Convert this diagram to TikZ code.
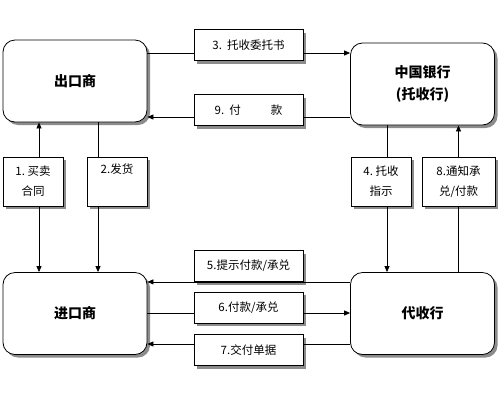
\documentclass[tikz,border=0pt]{standalone}
\usepackage{fontspec}
\setmainfont{Noto Sans CJK SC}
\usetikzlibrary{arrows.meta,shadows}

\begin{document}
\begin{tikzpicture}[
  x=1pt, y=-1pt,
  shade/.style={drop shadow={shadow xshift=3pt, shadow yshift=-3pt,
                fill=gray!90, opacity=1}},
  party/.style={draw, line width=0.8pt, rounded corners=12pt, fill=white,
                shade, minimum width=144pt, minimum height=82pt,
                inner sep=0pt, align=center,
                font=\fontsize{14pt}{22pt}\selectfont\bfseries},
  tag/.style={draw, line width=0.8pt, fill=white, shade,
              minimum width=109pt, minimum height=31pt, inner sep=0pt,
              align=center, font=\fontsize{11.5pt}{20pt}\selectfont},
  vtag/.style={tag, minimum width=60pt, minimum height=49pt},
  link/.style={line width=0.8pt},
  arr/.style={link, -{Triangle[length=6pt,width=5pt]}}
]
\useasboundingbox (0,0) rectangle (500,400);

% the four parties
\node[party] (exporter)   at (75,81)      {出口商};
\node[party] (bank)       at (422.5,84)   {中国银行\\(托收行)};
\node[party] (importer)   at (75,313.5)   {进口商};
\node[party] (collecting) at (422.5,313.5) {代收行};

% step labels
\node[tag] (l3) at (248.5,45)  {3.\ \ 托收委托书};
\node[tag] (l9) at (248.5,110) {9.\ \ 付\hspace{30pt}款};
\node[tag] (l5) at (248.5,266) {5.提示付款/承兑};
\node[tag] (l6) at (248.5,307.5) {6.付款/承兑};
\node[tag] (l7) at (248.5,350) {7.交付单据};
\node[vtag] (l1) at (33,181.5)  {1.\ 买卖\\合同};
\node[vtag] (l2) at (117,181.5) {2.发货\\\strut};
\node[vtag] (l4) at (381,181.5) {4.\ 托收\\指示};
\node[vtag, minimum width=73pt] (l8) at (458.5,181.5) {8.通知承\\兑/付款};

% where the lines run
\coordinate (p3) at ([yshift=-8pt]l3.center);
\coordinate (p9) at ([yshift=-7pt]l9.center);
\coordinate (p5) at (l5.south);
\coordinate (p6) at ([yshift=-5.5pt]l6.center);
\coordinate (p7) at ([yshift=6pt]l7.center);
\coordinate (p1) at ([xshift=6pt]l1.center);
\coordinate (p2) at ([xshift=-19pt]l2.center);
\coordinate (p4) at ([xshift=6pt]l4.center);
\coordinate (p8) at (l8.center);

\draw[link] (p3 -| exporter.east) -- (p3 -| l3.west);
\draw[arr] (p3 -| l3.east) -- (p3 -| bank.west);
\draw[link] (p9 -| bank.west) -- (p9 -| l9.east);
\draw[arr] (p9 -| l9.west) -- (p9 -| exporter.east);

\draw[arr] (p5 -| collecting.west) -- (p5 -| importer.east);
\draw[link] (p6 -| importer.east) -- (p6 -| l6.west);
\draw[arr] (p6 -| l6.east) -- (p6 -| collecting.west);
\draw[link] (p7 -| collecting.west) -- (p7 -| l7.east);
\draw[arr] (p7 -| l7.west) -- (p7 -| importer.east);

\draw[arr] (p1 |- l1.north) -- (p1 |- exporter.south);
\draw[arr] (p1 |- l1.south) -- (p1 |- importer.north);
\draw[link] (p2 |- l2.north) -- (p2 |- exporter.south);
\draw[arr] (p2 |- l2.south) -- (p2 |- importer.north);
\draw[link] (p4 |- bank.south) -- (p4 |- l4.north);
\draw[arr] (p4 |- l4.south) -- (p4 |- collecting.north);
\draw[link] (p8 |- collecting.north) -- (p8 |- l8.south);
\draw[arr] (p8 |- l8.north) -- (p8 |- bank.south);
\end{tikzpicture}
\end{document}
